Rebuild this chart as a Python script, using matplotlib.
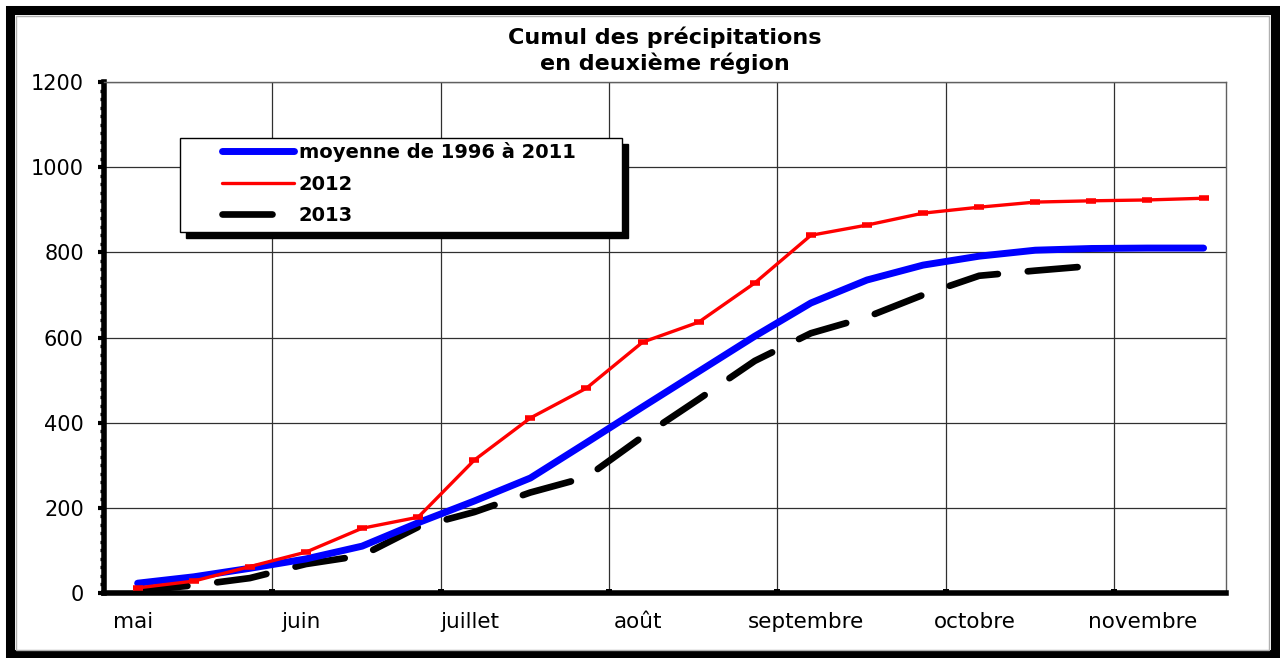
import numpy as np
import matplotlib
matplotlib.use("Agg")
import matplotlib.pyplot as plt
from matplotlib.patches import Rectangle
from matplotlib.lines import Line2D

# cumulative rainfall per decade (3 points per month), mai -> novembre
months = ["mai", "juin", "juillet", "août", "septembre", "octobre", "novembre"]
moyenne = [23, 38, 58, 80, 110, 165, 216, 270, 353, 437, 520, 603, 681, 735,
           770, 791, 805, 809, 810, 810]
cumul_2012 = [12, 28, 62, 96, 152, 178, 312, 411, 481, 589, 636, 728, 840, 864,
              892, 906, 918, 921, 923, 927]
cumul_2013 = [5, 18, 35, 68, 88, 155, 190, 236, 272, 367, 455, 545, 610, 648,
              700, 745, 757, 768]

W, H = 1280, 658
fig = plt.figure(figsize=(W / 100, H / 100), dpi=100)
ax = fig.add_axes([104 / W, 65 / H, (1226 - 104) / W, (593 - 82) / H])

x_moy = np.arange(len(moyenne))
x_2013 = np.arange(len(cumul_2013))

ax.plot(x_2013, cumul_2013, color="black", lw=4.8, ls=(0, (7.5, 4.5)),
        dash_capstyle="round", solid_capstyle="round", zorder=3)
ax.plot(x_moy, moyenne, color="#0000ff", lw=5, solid_capstyle="round", zorder=4)
ax.plot(x_moy, cumul_2012, color="#ff0000", lw=2.4, marker="_", ms=7, mew=4,
        zorder=5)

ax.set_xlim(-0.6, 19.4)
ax.set_ylim(0, 1200)

# y axis
ax.set_yticks(np.arange(0, 1201, 200))
ax.set_yticks(np.arange(0, 1201, 20), minor=True)
ax.tick_params(axis="y", which="major", direction="out", length=4.5, width=3,
               labelsize=15, pad=10)
ax.tick_params(axis="y", which="minor", direction="out", length=3, width=2.4)

# x axis: labels at first decade of each month, grid at month boundaries
ax.set_xticks(np.arange(0, 19, 3) - 0.08, months)
ax.set_xticks(np.arange(2.4, 19, 3), minor=True)
ax.tick_params(axis="x", which="major", length=0, labelsize=15.5, pad=14)
ax.tick_params(axis="x", which="minor", direction="in", length=3, width=4.3)

ax.grid(axis="x", which="minor", color="#303030", lw=0.9)
ax.grid(axis="y", which="major", color="#303030", lw=0.9)
ax.set_axisbelow(True)

for s in ["left", "bottom"]:
    ax.spines[s].set_linewidth(4)
    ax.spines[s].set_color("black")
for s in ["top", "right"]:
    ax.spines[s].set_linewidth(1)
    ax.spines[s].set_color("#606060")

ax.set_title("Cumul des précipitations\nen deuxième région", fontsize=16,
             fontweight="bold", pad=9, linespacing=1.25)

# legend box with black shadow
lx0, ly0, lx1, ly1 = 180, 138, 622, 232
fig.add_artist(Rectangle(((lx0 + 6) / W, 1 - (ly1 + 6) / H), (lx1 - lx0) / W,
                         (ly1 - ly0) / H, transform=fig.transFigure,
                         facecolor="black", edgecolor="black", zorder=4))
fig.add_artist(Rectangle((lx0 / W, 1 - ly1 / H), (lx1 - lx0) / W,
                         (ly1 - ly0) / H, transform=fig.transFigure,
                         facecolor="white", edgecolor="black", lw=1, zorder=4.5))

handles = [
    Line2D([], [], color="#0000ff", lw=5, solid_capstyle="round"),
    Line2D([], [], color="#ff0000", lw=2.4, solid_capstyle="round"),
    Line2D([], [], color="black", lw=4.8, ls=(0, (7.5, 4.5)), dash_capstyle="round"),
]
labels = ["moyenne de 1996 à 2011", "2012", "2013"]
fig.legend(handles, labels, loc="upper left",
           bbox_to_anchor=(222 / W, 1 - 142 / H), frameon=False,
           prop={"size": 14, "weight": "bold"}, handlelength=3.7,
           handletextpad=0.25, borderpad=0, borderaxespad=0,
           labelspacing=0.65)

# outer frame
fig.add_artist(Rectangle((10 / W, 1 - 654 / H), (1275 - 10) / W, (654 - 10) / H,
                         transform=fig.transFigure, fill=False,
                         edgecolor="black", lw=6.5, zorder=10))
fig.add_artist(Rectangle((16 / W, 1 - 650 / H), (1269 - 16) / W, (650 - 16) / H,
                         transform=fig.transFigure, fill=False,
                         edgecolor="#b0b0b0", lw=1, zorder=10))

fig.savefig("out.png", dpi=100)
